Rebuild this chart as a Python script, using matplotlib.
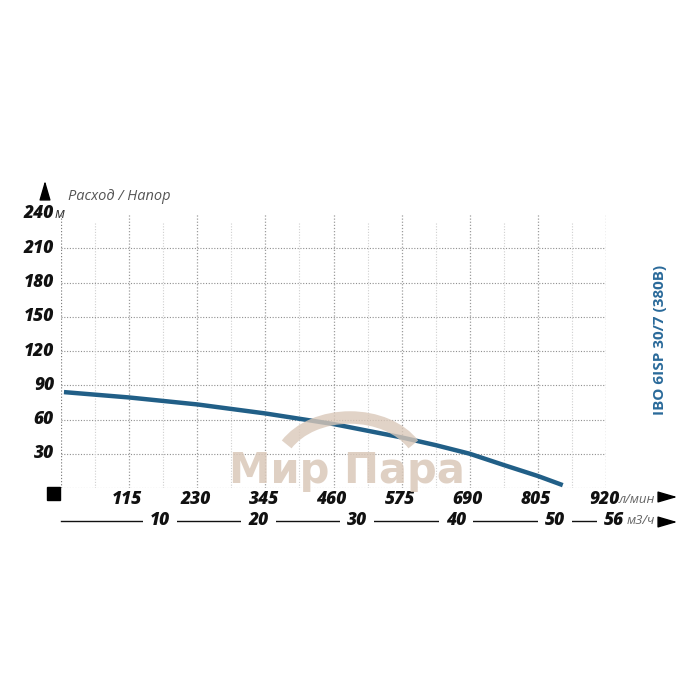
import matplotlib.pyplot as plt
from matplotlib.patches import Arc, Rectangle

# Pump curve: flow (l/min) vs head (m)
flow = [5, 115, 230, 345, 460, 575, 632, 690, 747, 805, 847]
head = [84, 79.3, 73.2, 65.3, 56, 44.3, 37.6, 30, 20.2, 10.5, 2.5]

x_ticks = [115, 230, 345, 460, 575, 690, 805, 920]
y_ticks = [30, 60, 90, 120, 150, 180, 210, 240]
m3h_ticks = [10, 20, 30, 40, 50, 56]

plt.rcParams['font.family'] = ['Open Sans', 'DejaVu Sans']

fig = plt.figure(figsize=(7, 7), dpi=100)
ax = fig.add_axes([61 / 700, 212 / 700, 545 / 700, 274 / 700])
ax.set_xlim(0, 920)
ax.set_ylim(0, 240)
for s in ax.spines.values():
    s.set_visible(False)
ax.set_xticks([])
ax.set_yticks([])

# grid
for y in [0] + y_ticks[:-1]:
    ax.plot([0, 920], [y, y], ls=(0, (1, 1.5)), color='#8f8f8f', lw=0.8)
for x in range(0, 921, 115):
    c = '#808080' if x in (0, 920) else '#9c9c9c'
    ax.plot([x, x], [0, 240], ls=(0, (1, 1.5)), color=c, lw=0.9)
for x in range(57, 920, 115):
    ax.plot([x + 0.5, x + 0.5], [0, 233], ls=(0, (1, 1.5)), color='#d0d0d0', lw=0.8)

# watermark
wm = '#dac8b9'
fig.patches.append(Arc((350 / 700, 1 - 470 / 700), 145 / 700, 105 / 700, theta1=22, theta2=158,
                       transform=fig.transFigure, color=wm, lw=9, alpha=0.8))
fig.text(347 / 700, 1 - 471 / 700, 'Мир Пара', fontsize=30, fontweight='bold', color=wm,
         ha='center', va='center', alpha=0.85, family='DejaVu Sans')

ax.plot(flow, head, color='#215f87', lw=3.2, solid_capstyle='butt', solid_joinstyle='round', zorder=5)

lab = dict(fontsize=12.5, fontweight=800, fontstyle='italic', color='#111111')
for y in y_ticks:
    ax.text(-12, y, str(y), ha='right', va='center', **lab)
ax.text(-11, 240, 'м', ha='left', va='center', fontsize=10.5, fontstyle='italic', color='#333333')
for x in x_ticks:
    ax.text(x - 3, -10, str(x), ha='center', va='center', **lab)
ax.text(942, -10, 'л/мин', ha='left', va='center', fontsize=9.5, fontstyle='italic', color='#666666')

fig.patches.append(Rectangle((47 / 700, 1 - 500 / 700), 13 / 700, 13 / 700,
                             transform=fig.transFigure, color='black'))

# second scale, m3/h
tr = ax.get_xaxis_transform()
ax.plot([0, 56 * 1000 / 60], [-0.12, -0.12], transform=tr, color='#111111', lw=1, clip_on=False)
for m in m3h_ticks:
    xp = m * 1000 / 60
    ax.plot([xp, xp], [-0.075, -0.09], transform=tr, color='#111111', lw=1, clip_on=False)
    ax.text(xp, -0.12, str(m), transform=tr, ha='center', va='center',
            bbox=dict(facecolor='white', edgecolor='none', pad=5), **lab)
ax.text(56 * 1000 / 60 + 22, -0.12, 'м3/ч', transform=tr, ha='left', va='center',
        fontsize=9.5, fontstyle='italic', color='#666666')

arrow = dict(arrowstyle='-|>,head_length=1.2,head_width=0.35', color='black', lw=1)
ax.annotate('', xy=(680 / 700, 1 - 497 / 700), xytext=(657 / 700, 1 - 497 / 700),
            xycoords='figure fraction', arrowprops=arrow)
ax.annotate('', xy=(680 / 700, 1 - 522 / 700), xytext=(660 / 700, 1 - 522 / 700),
            xycoords='figure fraction', arrowprops=arrow)
ax.annotate('', xy=(45 / 700, 1 - 178 / 700), xytext=(45 / 700, 1 - 198 / 700),
            xycoords='figure fraction', arrowprops=arrow)

fig.text(68 / 700, 1 - 196 / 700, 'Расход / Напор', fontsize=10.5, fontstyle='italic',
         color='#555555', ha='left', va='center')
fig.text(660 / 700, 1 - 340 / 700, 'IBO 6ISP 30/7 (380В)', rotation=90, fontsize=11,
         fontweight='bold', color='#2a6a9a', ha='center', va='center')

fig.savefig('out.png', dpi=100)
